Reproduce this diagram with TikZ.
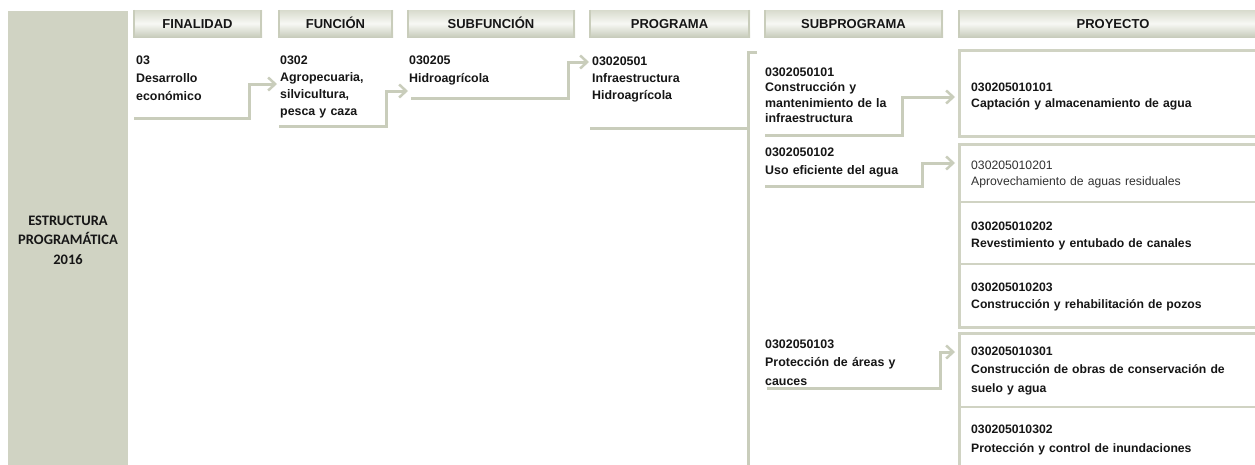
\documentclass[tikz,border=0pt]{standalone}
\usepackage{fontspec}
\setmainfont{Liberation Sans}
\newfontfamily\calib{Carlito}
\usetikzlibrary{arrows.meta}
\definecolor{colgray}{RGB}{208,211,195}
\definecolor{linegray}{RGB}{201,205,187}
\definecolor{hdtop}{RGB}{216,219,205}
\definecolor{hdmid}{RGB}{247,248,244}
\definecolor{hdbot}{RGB}{200,204,188}
\definecolor{txt}{RGB}{22,22,22}
\definecolor{txtreg}{RGB}{50,50,50}
\tikzset{
  hdrbox/.style={inner sep=0, minimum height=27pt, top color=hdtop, bottom color=hdbot, middle color=hdmid,
     text height=9.3pt, text depth=0pt,
     font=\fontsize{13}{14}\selectfont\bfseries, text=txt},
  hdredge/.style={draw=linegray, line width=2.5pt},
  lbl/.style={anchor=base west, inner sep=0, text width=300pt, align=left, text=txt},
  conn/.style={draw=linegray, line width=3pt, -{Straight Barb[length=7pt,width=13pt,line width=2.5pt]}},
  plain/.style={draw=linegray, line width=3pt},
  pbox/.style={draw=colgray, line width=3pt, inner sep=0, anchor=north west},
  divider/.style={draw=colgray, line width=2.5pt},
}
\begin{document}
\begin{tikzpicture}[x=1pt,y=-1pt]
\useasboundingbox (0,0) rectangle (1255,464);
\fill[white] (0,0) rectangle (1255,464);

% left column
\node[fill=colgray, inner sep=0, minimum width=120pt, minimum height=455pt, anchor=north west] (col) at (8,11) {};
\node[align=center, inner sep=0, font=\calib\fontsize{14.5}{19.3}\selectfont\bfseries, text=txt, anchor=base]
      (coltext) at (68,264) {ESTRUCTURA\\PROGRAMÁTICA\\2016};

% headers
\node[hdrbox, minimum width=129pt] (hfin) at (197.5,23.5) {FINALIDAD};
\node[hdrbox, minimum width=115pt] (hfun) at (335.5,23.5) {FUNCIÓN};
\node[hdrbox, minimum width=168pt] (hsub) at (491,23.5) {SUBFUNCIÓN};
\node[hdrbox, minimum width=161pt] (hpro) at (669.5,23.5) {PROGRAMA};
\node[hdrbox, minimum width=179pt] (hspr) at (853.5,23.5) {SUBPROGRAMA};
\node[hdrbox, minimum width=310pt] (hpry) at (1113,23.5) {PROYECTO};
\foreach \h in {hfin,hfun,hsub,hpro,hspr,hpry}{
  \draw[hdredge] ([xshift=1.25pt]\h.north west) -- ([xshift=1.25pt]\h.south west);
  \draw[hdredge] ([xshift=-1.25pt]\h.north east) -- ([xshift=-1.25pt]\h.south east);
}

% column texts
\node[lbl, font=\fontsize{12.4}{18}\selectfont\bfseries] (fin) at (136,64) {03\\Desarrollo\\económico};
\node[lbl, font=\fontsize{12.4}{17.3}\selectfont\bfseries] (fun) at (280,64) {0302\\Agropecuaria,\\silvicultura,\\pesca y caza};
\node[lbl, font=\fontsize{12.4}{18}\selectfont\bfseries] (sub) at (409,64) {030205\\Hidroagrícola};
\node[lbl, font=\fontsize{12.4}{17}\selectfont\bfseries] (pro) at (592,65) {03020501\\Infraestructura\\Hidroagrícola};
\node[lbl, font=\fontsize{12.4}{15.5}\selectfont\bfseries] (sp1) at (765,76) {0302050101\\Construcción y\\mantenimiento de la\\infraestructura};
\node[lbl, font=\fontsize{12.4}{18.5}\selectfont\bfseries] (sp2) at (765,156) {0302050102\\Uso eficiente del agua};
\node[lbl, font=\fontsize{12.4}{18.5}\selectfont\bfseries] (sp3) at (765,348) {0302050103\\Protección de áreas y\\cauces};

% project boxes
\node[pbox, minimum width=310pt, minimum height=86pt] (pb1) at (958,49) {};
\node[pbox, minimum width=310pt, minimum height=183pt] (pb2) at (958,143) {};
\node[pbox, minimum width=310pt, minimum height=140pt] (pb3) at (958,332) {};
\draw[divider] (pb2.west |- 0,202) -- (pb2.east |- 0,202);
\draw[divider] (pb2.west |- 0,264) -- (pb2.east |- 0,264);
\draw[divider] (pb3.west |- 0,407) -- (pb3.east |- 0,407);

% project texts
\node[lbl, font=\fontsize{12.2}{16}\selectfont\bfseries] (p11) at (971,91) {030205010101\\Captación y almacenamiento de agua};
\node[lbl, font=\fontsize{12.2}{16.5}\selectfont, text=txtreg] (p21) at (971,169) {030205010201\\Aprovechamiento de aguas residuales};
\node[lbl, font=\fontsize{12.2}{17}\selectfont\bfseries] (p22) at (971,230) {030205010202\\Revestimiento y entubado de canales};
\node[lbl, font=\fontsize{12.2}{17}\selectfont\bfseries] (p23) at (971,291) {030205010203\\Construcción y rehabilitación de pozos};
\node[lbl, font=\fontsize{12.2}{18.5}\selectfont\bfseries] (p31) at (971,355) {030205010301\\Construcción de obras de conservación de\\suelo y agua};
\node[lbl, font=\fontsize{12.2}{19}\selectfont\bfseries] (p32) at (971,433) {030205010302\\Protección y control de inundaciones};

% connectors
\coordinate (c1s) at (134,118);  \coordinate (c1e) at (277,84);
\coordinate (c2s) at (279,126);  \coordinate (c2e) at (408,91);
\coordinate (c3s) at (411,98);   \coordinate (c3e) at (589,62);
\coordinate (c5s) at (765,135);  \coordinate (c5e) at (955,97);
\coordinate (c6s) at (765,186);  \coordinate (c6e) at (955,163);
\coordinate (c7s) at (767,388);  \coordinate (c7e) at (955,352);
\draw[conn] (c1s) -- (249,118) |- (c1e);
\draw[conn] (c2s) -- (386,126) |- (c2e);
\draw[conn] (c3s) -- (568,98) |- (c3e);
\draw[conn] (c5s) -- (902,135) |- (c5e);
\draw[conn] (c6s) -- (922,186) |- (c6e);
\draw[conn] (c7s) -- (940,388) |- (c7e);

% programa bracket
\coordinate (b0) at (590,128);
\coordinate (bj) at (748,128);
\coordinate (bt) at (757,52);
\coordinate (bb) at (748,466);
\draw[plain] (b0) -- (bj);
\draw[plain] (bt) -- (748,52) -- (bb);
\end{tikzpicture}
\end{document}
